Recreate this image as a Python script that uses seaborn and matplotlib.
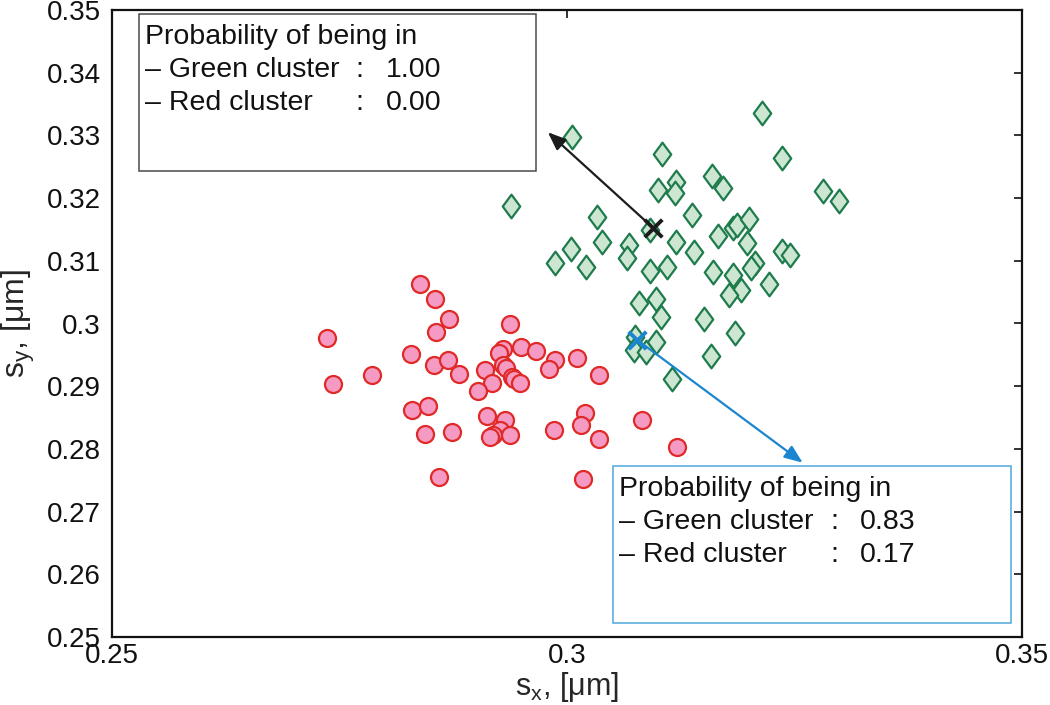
import matplotlib
matplotlib.use('Agg')
import matplotlib.pyplot as plt
import seaborn as sns
import numpy as np
from matplotlib.path import Path
from matplotlib.patches import Rectangle

# Red cluster (circles)
red_x = [0.2736, 0.2743, 0.2786, 0.2838, 0.2855, 0.2870, 0.2856, 0.2829, 0.2854, 0.2869,
         0.2881, 0.2830, 0.2847, 0.2844, 0.2874, 0.2859, 0.2937, 0.2930, 0.2925, 0.2949,
         0.2966, 0.2987, 0.2980, 0.3011, 0.3035, 0.2910, 0.2930, 0.2933, 0.2940, 0.2942,
         0.2948, 0.2918, 0.2902, 0.2912, 0.2932, 0.2926, 0.2919, 0.2915, 0.2937, 0.2986,
         0.3020, 0.3015, 0.3035, 0.3082, 0.3121, 0.3018]
red_y = [0.2977, 0.2904, 0.2918, 0.3063, 0.3039, 0.3007, 0.2986, 0.2951, 0.2934, 0.2942,
         0.2919, 0.2862, 0.2868, 0.2824, 0.2827, 0.2755, 0.2999, 0.2959, 0.2953, 0.2963,
         0.2956, 0.2942, 0.2927, 0.2945, 0.2918, 0.2926, 0.2934, 0.2929, 0.2915, 0.2911,
         0.2905, 0.2905, 0.2892, 0.2853, 0.2846, 0.2830, 0.2822, 0.2819, 0.2822, 0.2830,
         0.2857, 0.2838, 0.2816, 0.2846, 0.2803, 0.2752]

# Green cluster (diamonds)
green_x = [0.3005, 0.3214, 0.3104, 0.3236, 0.2938, 0.3100, 0.3120, 0.3119, 0.3159, 0.3171,
           0.3281, 0.3299, 0.3033, 0.3137, 0.3091, 0.3038, 0.3004, 0.2987, 0.3021, 0.3068,
           0.3066, 0.3120, 0.3110, 0.3140, 0.3091, 0.3166, 0.3182, 0.3187, 0.3200, 0.3198,
           0.3236, 0.3245, 0.3160, 0.3182, 0.3191, 0.3178, 0.3207, 0.3202, 0.3222, 0.3079,
           0.3098, 0.3103, 0.3151, 0.3185, 0.3098, 0.3075, 0.3074, 0.3087, 0.3158, 0.3115]
green_y = [0.3297, 0.3336, 0.3270, 0.3264, 0.3187, 0.3213, 0.3226, 0.3208, 0.3235, 0.3216,
           0.3211, 0.3195, 0.3170, 0.3173, 0.3149, 0.3130, 0.3119, 0.3096, 0.3090, 0.3125,
           0.3104, 0.3130, 0.3090, 0.3114, 0.3084, 0.3140, 0.3152, 0.3157, 0.3167, 0.3128,
           0.3116, 0.3109, 0.3082, 0.3077, 0.3053, 0.3045, 0.3096, 0.3089, 0.3063, 0.3033,
           0.3039, 0.3010, 0.3007, 0.2985, 0.2970, 0.2978, 0.2958, 0.2955, 0.2948, 0.2911]

# Queried points and where their arrows point
query_x = [0.3095, 0.3077]
query_y = [0.3152, 0.2974]
tip_x = [0.2979, 0.3259]
tip_y = [0.3305, 0.2778]
query_colors = ['#1c1c1c', '#1b86d0']
box_colors = ['#4a4a4a', '#4fa8df']
prob_green = ['1.00', '0.83']
prob_red = ['0.00', '0.17']

x_ticks = [0.25, 0.30, 0.35]
x_ticklabels = ['0.25', '0.3', '0.35']
y_ticks = [0.25, 0.26, 0.27, 0.28, 0.29, 0.30, 0.31, 0.32, 0.33, 0.34, 0.35]
y_ticklabels = ['0.25', '0.26', '0.27', '0.28', '0.29', '0.3', '0.31', '0.32', '0.33', '0.34', '0.35']

sns.set_style('white')
plt.rcParams['font.family'] = ['Liberation Sans', 'DejaVu Sans']
plt.rcParams['mathtext.default'] = 'regular'

fig = plt.figure(figsize=(10.5, 7.05), dpi=100)
ax = fig.add_axes([112 / 1050, 68 / 705, 910 / 1050, 627 / 705])

# circles for the red cluster
sns.scatterplot(x=red_x, y=red_y, ax=ax, marker='o', s=150, color='#f49ac3',
                edgecolor='#e02a27', linewidth=1.6, zorder=3)

# taller-than-wide diamonds for the green cluster
diamond = Path([(0, 1), (0.74, 0), (0, -1), (-0.74, 0), (0, 1)], closed=True)
sns.scatterplot(x=green_x, y=green_y, ax=ax, marker=diamond, s=290, color='#cce6d2',
                edgecolor='#1d7b4c', linewidth=1.6, zorder=3)

# queried points
for i in range(2):
    sns.scatterplot(x=[query_x[i]], y=[query_y[i]], ax=ax, marker='x', s=160,
                    color=query_colors[i], linewidth=2.8, zorder=5)

ax.set_xlim(0.25, 0.35)
ax.set_ylim(0.25, 0.35)
ax.set_xticks(x_ticks)
ax.set_xticklabels(x_ticklabels)
ax.set_yticks(y_ticks)
ax.set_yticklabels(y_ticklabels)
ax.tick_params(direction='in', length=6, width=1.2, labelsize=20, pad=8,
               top=True, right=True, colors='#111111')
ax.tick_params(axis='x', pad=4)
for sp in ax.spines.values():
    sp.set_linewidth(1.6)
    sp.set_color('#111111')

ax.set_xlabel('s$_x$, [μm]', fontsize=22)
ax.set_ylabel('s$_y$, [μm]', fontsize=23)
ax.xaxis.set_label_coords(0.5, -0.052)
ax.yaxis.set_label_coords(-0.082, 0.5)

# probability boxes
box_x0 = [0.0292, 0.5505]
box_y0 = [0.7432, 0.0223]
box_w, box_h = 0.437, 0.25
for i in range(2):
    ax.add_patch(Rectangle((box_x0[i], box_y0[i]), box_w, box_h, transform=ax.transAxes,
                           facecolor='white', edgecolor=box_colors[i], linewidth=1.1,
                           zorder=6))
    top = box_y0[i] + box_h
    left = box_x0[i] + 0.0066
    kw = dict(transform=ax.transAxes, fontsize=20.5, va='baseline', ha='left', zorder=7,
              color='#111111')
    ax.text(left, top - 0.0478, 'Probability of being in', **kw)
    ax.text(left, top - 0.1005, '– Green cluster', **kw)
    ax.text(left, top - 0.1531, '– Red cluster', **kw)
    ax.text(box_x0[i] + 0.2385, top - 0.1005, ':', **kw)
    ax.text(box_x0[i] + 0.2385, top - 0.1531, ':', **kw)
    ax.text(box_x0[i] + 0.2714, top - 0.1005, prob_green[i], **kw)
    ax.text(box_x0[i] + 0.2714, top - 0.1531, prob_red[i], **kw)

    ax.annotate('', xy=(tip_x[i], tip_y[i]), xytext=(query_x[i], query_y[i]),
                arrowprops=dict(arrowstyle='-|>,head_length=0.55,head_width=0.22',
                                color=query_colors[i], lw=1.6, mutation_scale=20,
                                shrinkA=0, shrinkB=0), zorder=8)

fig.savefig('out.png', dpi=100)
